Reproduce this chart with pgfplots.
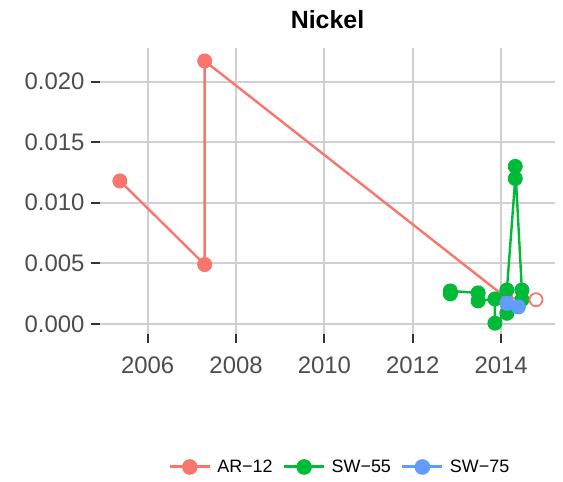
\documentclass[border=0pt]{standalone}
\usepackage{fontspec}
\setmainfont{Liberation Sans}
\usepackage{pgfplots}
\pgfplotsset{compat=1.18}
\definecolor{cAR}{HTML}{F8766D}
\definecolor{cSW}{HTML}{00BA38}
\definecolor{cSWb}{HTML}{619CFF}
\definecolor{gridc}{HTML}{D0D0D0}
\definecolor{tickc}{HTML}{333333}
\definecolor{labc}{HTML}{4D4D4D}
\begin{document}
\begin{tikzpicture}[x=1bp,y=1bp]
\useasboundingbox (0,0) rectangle (563,482);
\begin{axis}[
 at={(100bp,148bp)}, anchor=south west,
 scale only axis, width=455bp, height=286bp,
 xmin=2004.92, xmax=2015.22, ymin=-0.00083, ymax=0.02277,
 axis line style={draw=none},
 grid=major, major grid style={draw=gridc, line width=2bp},
 xtick={2006,2008,2010,2012,2014}, ytick={0,0.005,0.01,0.015,0.02},
 tick pos=left,
 tick align=outside, major tick length=9bp, tick style={draw=tickc, line width=2bp},
 /pgf/number format/assume math mode=true,
 x tick label style={/pgf/number format/1000 sep={}, font=\fontsize{24}{28}\selectfont, text=labc, yshift=-10bp},
 y tick label style={/pgf/number format/fixed, /pgf/number format/fixed zerofill, /pgf/number format/precision=3, font=\fontsize{24}{28}\selectfont, text=labc, xshift=-3bp},
 scaled y ticks=false,
 title={Nickel}, title style={at={(0.5,1)}, anchor=center, yshift=22bp, font=\bfseries\fontsize{25}{30}\selectfont},
 legend columns=3,
 legend style={at={(0.527,-0.465)}, anchor=center, draw=none, fill=none, font=\fontsize{18}{21}\selectfont, /tikz/every even column/.append style={column sep=8bp}, /tikz/every odd column/.append style={column sep=4bp}},
 legend image code/.code={\draw[mark repeat=2,mark phase=2,#1, line width=3bp] plot coordinates {(0bp,0bp)(20bp,0bp)(40bp,0bp)};},
]
\addplot[cAR, line width=2.4bp, mark=*, mark size=6.3bp, mark options={solid, fill=cAR, draw=cAR}] coordinates {
 (2005.37,0.0118) (2007.29,0.0049) (2007.29,0.0217) (2014.10,0.0022)
};
\addlegendentry{AR−12}
\addplot[cSW, line width=2.4bp, mark=*, mark size=6.3bp, mark options={solid, fill=cSW, draw=cSW}] coordinates {
 (2012.85,0.00248) (2012.85,0.00272) (2013.48,0.00256) (2013.48,0.0019)
 (2013.86,0.00206) (2013.86,0.00006) (2014.13,0.00088) (2014.13,0.0028)
 (2014.32,0.0120) (2014.32,0.0130) (2014.47,0.0028) (2014.47,0.0020)
};
\addlegendentry{SW−55}
\addplot[cSWb, line width=2.4bp, mark=*, mark size=6.3bp, mark options={solid, fill=cSWb, draw=cSWb}] coordinates {
 (2014.13,0.0017) (2014.39,0.0014)
};
\addlegendentry{SW−75}
\addplot[cAR, line width=2.4bp, dashed, forget plot] coordinates {(2014.10,0.0022) (2014.62,0.0020)};
\addplot[only marks, mark=*, mark size=6.5bp, mark options={fill=white, draw=cAR, line width=1.8bp}, forget plot] coordinates {(2014.79,0.0020)};
\end{axis}
\end{tikzpicture}
\end{document}
